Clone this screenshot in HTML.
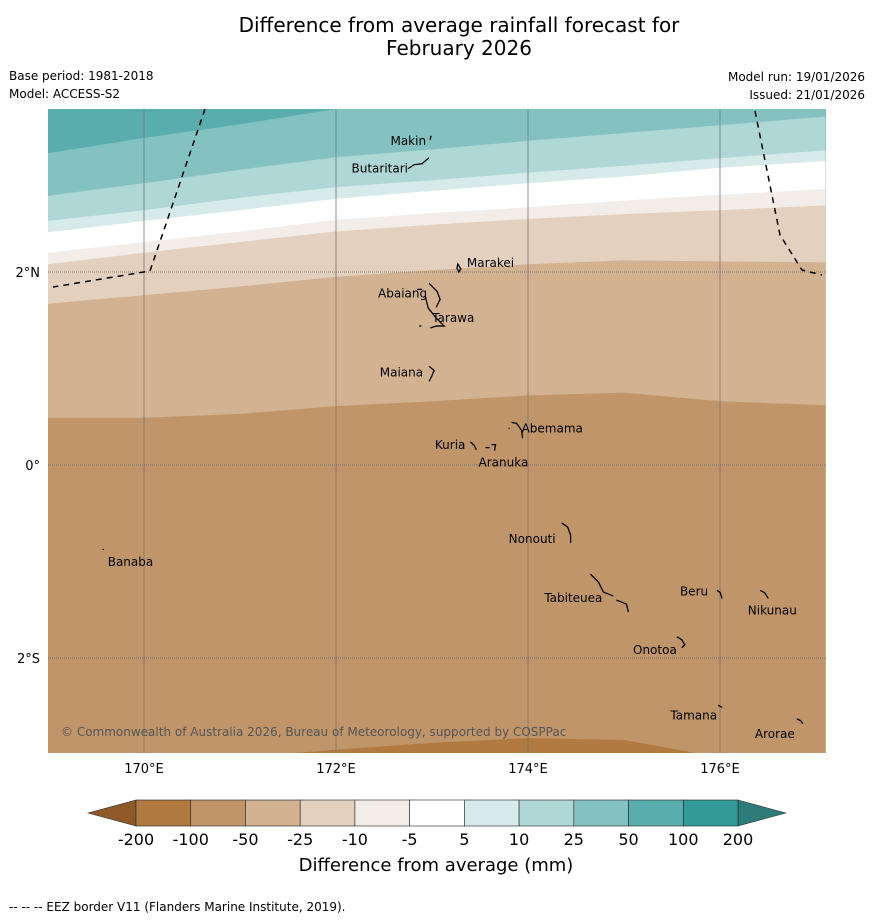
<!DOCTYPE html>
<html><head><meta charset="utf-8"><style>
body{margin:0;background:#fff;width:873px;height:919px;overflow:hidden;font-family:"Liberation Sans","DejaVu Sans",sans-serif}
svg text{font-family:"DejaVu Sans","Liberation Sans",sans-serif}
</style></head><body>
<svg id="chart" width="873" height="919" viewBox="0 0 873 919" xmlns="http://www.w3.org/2000/svg">
<text x="459" y="32" font-size="20" text-anchor="middle">Difference from average rainfall forecast for</text>
<text x="459" y="55" font-size="20" text-anchor="middle">February 2026</text>
<text x="9" y="80" font-size="12">Base period: 1981-2018</text>
<text x="9" y="98" font-size="12">Model: ACCESS-S2</text>
<text x="865" y="81" font-size="12" text-anchor="end">Model run: 19/01/2026</text>
<text x="865" y="99" font-size="12" text-anchor="end">Issued: 21/01/2026</text>
<defs><clipPath id="mapclip"><rect x="48" y="109" width="778" height="644"/></clipPath></defs>
<g id="map" clip-path="url(#mapclip)"></g>
<g id="over"></g>
<g id="cbar"></g>
<text x="436" y="871" font-size="18" text-anchor="middle">Difference from average (mm)</text>
<text x="9" y="911" font-size="12">--  --  -- EEZ border V11 (Flanders Marine Institute, 2019).</text>
</svg>
<script>
// data
const lons = [169, 170, 171, 172, 173, 174, 175, 176, 177.1];
const boundaryLevels = [50, 25, 10, 5, -5, -10, -25, -50, -100];
const b50 = [3.23, 3.39, 3.53, 3.69, 3.82, 3.96, 4.09, 4.23, 4.37];
const b25 = [2.79, 2.92, 3.06, 3.19, 3.27, 3.36, 3.44, 3.52, 3.61];
const b10 = [2.53, 2.64, 2.77, 2.88, 2.95, 3.03, 3.10, 3.18, 3.26];
const b5 = [2.41, 2.53, 2.64, 2.76, 2.84, 2.92, 2.99, 3.08, 3.15];
const bm5 = [2.20, 2.31, 2.42, 2.54, 2.61, 2.67, 2.74, 2.80, 2.86];
const bm10 = [2.08, 2.20, 2.31, 2.42, 2.49, 2.55, 2.60, 2.64, 2.69];
const bm25 = [1.67, 1.76, 1.85, 1.95, 2.02, 2.08, 2.12, 2.11, 2.10];
const bm50 = [0.49, 0.49, 0.53, 0.61, 0.66, 0.72, 0.75, 0.66, 0.62];
const bm100 = [-3.06, -3.06, -3.03, -2.95, -2.88, -2.83, -2.85, -3.03, -3.08];
const cbLabels = ["-200","-100","-50","-25","-10","-5","5","10","25","50","100","200"];
const cbColors = ["#b07a40","#c0956a","#d2b291","#e3d0bf","#f2ede8","#ffffff","#d6eae9","#afd7d6","#84c2c1","#5aadad","#349a98"];
const lonTicks = [170, 172, 174, 176];
const latTicks = [2, 0, -2];
const latTickLabels = ["2°N", "0°", "2°S"];
const islands = [
 {name:"Makin",lon:172.98,lat:3.37,lx:-4,ly:5,anchor:"end",path:"M0,0 l1,-4"},
 {name:"Butaritari",lon:172.75,lat:3.07,lx:0,ly:4,anchor:"end",path:"M0,0 l6,-4 l8,-1 l7,-6"},
 {name:"Marakei",lon:173.28,lat:2.0,lx:8,ly:-5,anchor:"start",path:"M0,0 l-2,-4 l1,-4 l3,5 z"},
 {name:"Abaiang",lon:172.97,lat:1.82,lx:-2,ly:8,anchor:"end",path:"M-12,0 h5 M0,-6 l8,8 l3,8 l-4,8"},
 {name:"Tarawa",lon:172.95,lat:1.44,lx:5,ly:-4,anchor:"start",path:"M-2,-30 l3,12 l8,10 l8,8 l-8,0 l-6,2 M-8,0 h2"},
 {name:"Maiana",lon:172.97,lat:0.97,lx:-6,ly:5,anchor:"end",path:"M0,-5 l5,4 l-2,5 l-3,6"},
 {name:"Abemama",lon:173.85,lat:0.38,lx:8,ly:4,anchor:"start",path:"M-2,-6 l5,1 l5,7 l1,8 M-5,0 h1"},
 {name:"Kuria",lon:173.4,lat:0.22,lx:-5,ly:5,anchor:"end",path:"M0,-2 l4,4 l2,4"},
 {name:"Aranuka",lon:173.62,lat:0.18,lx:-13,ly:19,anchor:"start",path:"M-6,0 h4 M0,-3 l4,0 l-1,6"},
 {name:"Nonouti",lon:174.35,lat:-0.6,lx:-6,ly:20,anchor:"end",path:"M0,0 l6,4 l3,8 v8"},
 {name:"Tabiteuea",lon:174.65,lat:-1.13,lx:12,ly:28,anchor:"end",path:"M0,0 l8,8 l5,10 l10,4 M26,26 l10,4 l2,8"},
 {name:"Beru",lon:175.97,lat:-1.3,lx:-9,ly:5,anchor:"end",path:"M0,0 l3,2 l2,6"},
 {name:"Nikunau",lon:176.42,lat:-1.3,lx:12,ly:24,anchor:"middle",path:"M0,0 l4,2 l4,6"},
 {name:"Onotoa",lon:175.55,lat:-1.78,lx:0,ly:17,anchor:"end",path:"M0,0 l5,3 l3,5 l-3,3"},
 {name:"Tamana",lon:175.98,lat:-2.49,lx:-1,ly:14,anchor:"end",path:"M0,0 l4,2"},
 {name:"Arorae",lon:176.8,lat:-2.63,lx:-2,ly:19,anchor:"end",path:"M0,0 l4,2 l2,3"},
 {name:"Banaba",lon:169.57,lat:-0.87,lx:5,ly:17,anchor:"start",path:"M0,0 l1,1"}
];
// axes
const X = lon => 144 + (lon - 170) * 96;
const Y = lat => 465 - lat * 96.5;
const NS = "http://www.w3.org/2000/svg";
function mk(tag, attrs, parent){const e=document.createElementNS(NS,tag);for(const k in attrs)e.setAttribute(k,attrs[k]);parent.appendChild(e);return e;}
const map = document.getElementById('map'), over = document.getElementById('over'), cbar = document.getElementById('cbar');
const bg = mk('rect',{x:48,y:109,width:778,height:644,fill:cbColors[9]},map);


const bounds = [b50,b25,b10,b5,bm5,bm10,bm25,bm50,bm100];
bounds.forEach((b,i)=>{
  let d = 'M'+lons.map((l,j)=>X(l).toFixed(1)+','+Y(b[j]).toFixed(1)).join(' L');
  d += ' L'+X(lons[lons.length-1])+',800 L'+X(lons[0])+',800 Z';
  const p = mk('path',{d:d,fill:cbColors[8-i]},map);
  
  
});
lonTicks.forEach(l=>{
  const g = mk('line',{x1:X(l),x2:X(l),y1:109,y2:753,stroke:"#777",'stroke-width':0.8},map);
  
  
  const t = mk('text',{x:X(l),y:773,'font-size':13,'text-anchor':'middle'},over);
  t.textContent = l+'°E';
  
  
});
latTicks.forEach((l,i)=>{
  const g = mk('line',{x1:48,x2:826,y1:Y(l),y2:Y(l),stroke:"#666",'stroke-width':0.8,'stroke-dasharray':'1,1'},map);
  
  
  const t = mk('text',{x:40,y:Y(l)+5,'font-size':13,'text-anchor':'end'},over);
  t.textContent = latTickLabels[i];
  
  
});
const eez1 = mk('path',{d:"M205,109 L150,271 L53,287",fill:"none",stroke:"#000",'stroke-width':1.5,'stroke-dasharray':'6,5'},map);


const eez2 = mk('path',{d:"M755,111 L780,235 L802,270 L822,275",fill:"none",stroke:"#000",'stroke-width':1.5,'stroke-dasharray':'6,5'},map);


islands.forEach(s=>{
  const x=X(s.lon), y=Y(s.lat);
  const p = mk('path',{d:s.path,transform:`translate(${x},${y})`,fill:"none",stroke:"#000",'stroke-width':1.3},map);
  
  
  const t = mk('text',{x:x+s.lx,y:y+s.ly,'font-size':12,'text-anchor':s.anchor},map);
  t.textContent = s.name;
  
  
});
const cp = mk('text',{x:61,y:736,'font-size':12,fill:"#555"},map);
cp.textContent = "© Commonwealth of Australia 2026, Bureau of Meteorology, supported by COSPPac";


// colorbar
const cbx0=136, cbx1=738, cby=800, cbh=26, segW=(cbx1-cbx0)/cbColors.length;
const la = mk('path',{d:`M${cbx0},${cby} L88,${cby+cbh/2} L${cbx0},${cby+cbh} Z`,fill:"#8f5a28",stroke:"#333",'stroke-width':0.6},cbar);


const ra = mk('path',{d:`M${cbx1},${cby} L786,${cby+cbh/2} L${cbx1},${cby+cbh} Z`,fill:"#2e7c7a",stroke:"#333",'stroke-width':0.6},cbar);


cbColors.forEach((c,i)=>{
  const r = mk('rect',{x:cbx0+i*segW,y:cby,width:segW,height:cbh,fill:c,stroke:"#222",'stroke-width':0.6},cbar);
  
  
});
cbLabels.forEach((l,i)=>{
  const t = mk('text',{x:cbx0+i*segW,y:845,'font-size':16,'text-anchor':'middle'},cbar);
  t.textContent = l;
  
  
});
</script>
</body></html>
